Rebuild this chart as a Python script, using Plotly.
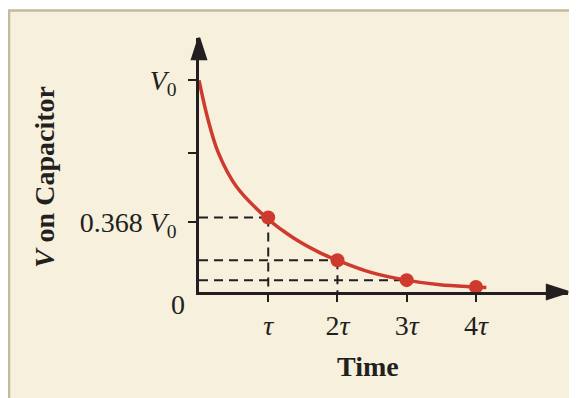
import plotly.graph_objects as go

# Curve (time in units of tau, voltage in units of V0)
curve_t = [0, 0.13, 0.28, 0.54, 0.97, 1.36, 1.75, 2.0, 2.47, 2.99, 3.48, 4.0, 4.15]
curve_v = [1.0, 0.815, 0.657, 0.498, 0.352, 0.256, 0.185, 0.150, 0.094, 0.056, 0.034, 0.024, 0.021]

# Marked points at tau, 2tau, 3tau, 4tau
dot_t = [1, 2, 3, 4]
dot_v = [0.352, 0.150, 0.056, 0.024]

# Tick labels
x_tickvals = [1, 2, 3, 4]
x_ticktext = ['<i>τ</i>', '2<i>τ</i>', '3<i>τ</i>', '4<i>τ</i>']
y_tickvals = [0.33, 0.658, 1]
y_ticktext = ['0.368 <i>V</i><sub>0</sub>', '', '<i>V</i><sub>0</sub>']

COLORS = {
    'panel': '#f6f0dc',
    'border': '#c5b99c',
    'ink': '#231f20',
    'red': '#cf3a2f',
}
FONT = 'Liberation Serif, Times New Roman, serif'
X_MAX = 5.33
Y_MAX = 1.2

fig = go.Figure()

# dashed guide lines: horizontal to every marked point except the last,
# vertical from the first two down to the time axis
for i in range(3):
    fig.add_trace(go.Scatter(
        x=[0, dot_t[i]], y=[dot_v[i], dot_v[i]], mode='lines',
        line=dict(color=COLORS['ink'], width=2, dash='9px,6px'),
        hoverinfo='skip', showlegend=False,
    ))
for i in range(2):
    fig.add_trace(go.Scatter(
        x=[dot_t[i], dot_t[i]], y=[dot_v[i], 0], mode='lines',
        line=dict(color=COLORS['ink'], width=2, dash='9px,6px'),
        hoverinfo='skip', showlegend=False,
    ))

fig.add_trace(go.Scatter(
    x=curve_t, y=curve_v, mode='lines', line_shape='spline',
    line=dict(color=COLORS['red'], width=3.5),
    hoverinfo='skip', showlegend=False,
))
fig.add_trace(go.Scatter(
    x=dot_t, y=dot_v, mode='markers',
    marker=dict(color=COLORS['red'], size=14),
    hoverinfo='skip', showlegend=False,
))

# arrow heads at the ends of the two axes
fig.add_trace(go.Scatter(
    x=[X_MAX, 0], y=[0, Y_MAX], mode='markers', cliponaxis=False,
    marker=dict(symbol='arrow', size=22, angle=[90, 0],
                color=COLORS['ink'],
                line=dict(width=2.5, color=COLORS['ink'])),
    hoverinfo='skip', showlegend=False,
))

# cream panel with a tan border on top/left
fig.add_shape(type='rect', xref='paper', yref='paper',
              x0=-0.5149, x1=1.2, y0=-0.6, y1=1.108,
              fillcolor=COLORS['panel'],
              line=dict(color=COLORS['border'], width=2.5),
              layer='below')

fig.add_annotation(x=0, y=0, xref='x', yref='y', text='0', showarrow=False,
                   xshift=-21, yshift=-12,
                   font=dict(family=FONT, size=28, color=COLORS['ink']))
fig.add_annotation(x=0.458, y=-0.295, xref='paper', yref='paper',
                   xanchor='center', yanchor='middle',
                   text='<b>Time</b>', showarrow=False,
                   font=dict(family=FONT, size=28, color=COLORS['ink']))
fig.add_annotation(x=-0.417, y=0.453, xref='paper', yref='paper',
                   xanchor='center', yanchor='middle',
                   text='<b><i>V</i> on Capacitor</b>', showarrow=False,
                   textangle=-90,
                   font=dict(family=FONT, size=28, color=COLORS['ink']))

# the page body adds an 8px margin, so the figure is 8px smaller than the window
fig.update_layout(
    template='none',
    width=569, height=390,
    margin=dict(l=191, r=9, t=30, b=106),
    paper_bgcolor='white',
    plot_bgcolor='rgba(0,0,0,0)',
    font=dict(family=FONT, size=28, color=COLORS['ink']),
    xaxis=dict(
        range=[0, X_MAX], showgrid=False, zeroline=False, automargin=False,
        showline=True, linecolor=COLORS['ink'], linewidth=2.5,
        ticks='outside', ticklen=7, tickwidth=2, tickcolor=COLORS['ink'],
        tickvals=x_tickvals, ticktext=x_ticktext,
        ticklabelstandoff=0,
    ),
    yaxis=dict(
        range=[0, Y_MAX], showgrid=False, zeroline=False, automargin=False,
        showline=True, linecolor=COLORS['ink'], linewidth=2.5,
        ticks='outside', ticklen=8, tickwidth=2, tickcolor=COLORS['ink'],
        tickvals=y_tickvals, ticktext=y_ticktext,
        ticklabelstandoff=6,
    ),
)

fig.write_html("out.html")
